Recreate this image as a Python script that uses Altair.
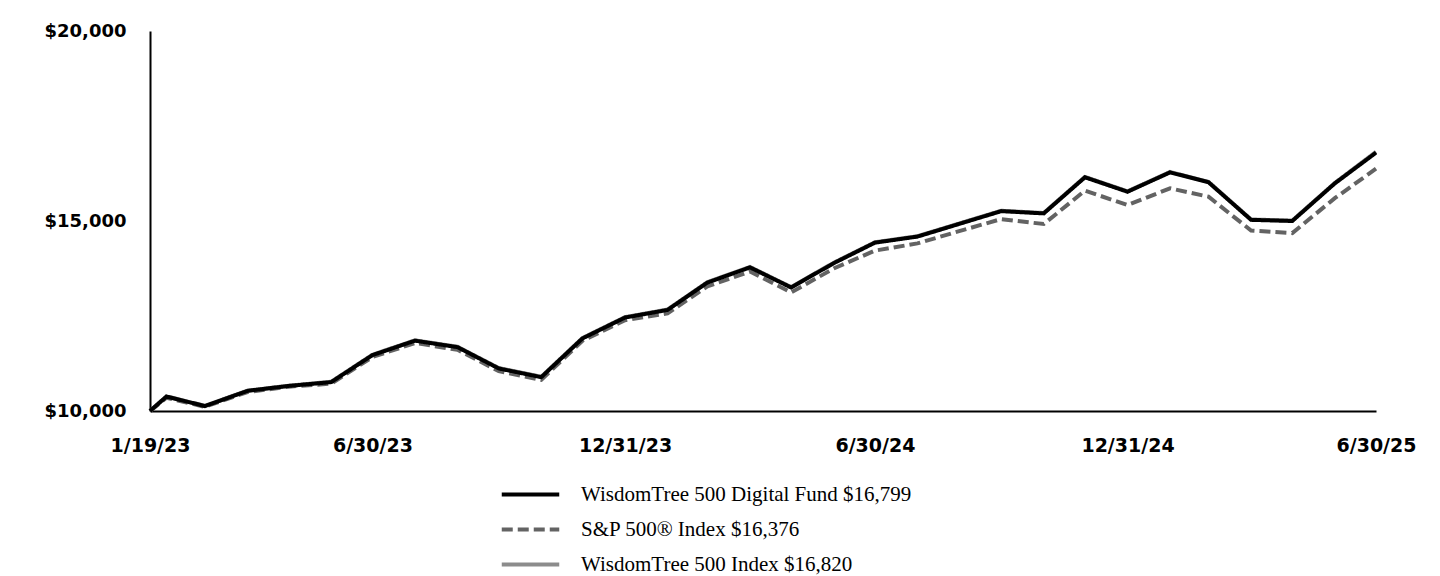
import altair as alt
import pandas as pd

dates = [
    "2023-01-19", "2023-01-31", "2023-02-28", "2023-03-31", "2023-04-30", "2023-05-31",
    "2023-06-30", "2023-07-31", "2023-08-31", "2023-09-30", "2023-10-31", "2023-11-30",
    "2023-12-31", "2024-01-31", "2024-02-29", "2024-03-31", "2024-04-30", "2024-05-31",
    "2024-06-30", "2024-07-31", "2024-08-31", "2024-09-30", "2024-10-31", "2024-11-30",
    "2024-12-31", "2025-01-31", "2025-02-28", "2025-03-31", "2025-04-30", "2025-05-31",
    "2025-06-30",
]

fund = [10000, 10380, 10130, 10530, 10660, 10760, 11470, 11850, 11680, 11120, 10890,
        11910, 12460, 12660, 13380, 13780, 13250, 13890, 14430, 14590, 14930, 15260,
        15200, 16150, 15770, 16280, 16020, 15030, 15000, 15990, 16799]
sp500 = [10000, 10350, 10110, 10500, 10640, 10720, 11420, 11790, 11610, 11050, 10820,
         11850, 12390, 12570, 13280, 13670, 13120, 13750, 14220, 14410, 14740, 15050,
         14920, 15800, 15420, 15860, 15640, 14750, 14680, 15600, 16376]
wt_index = [10000, 10385, 10135, 10535, 10665, 10770, 11480, 11860, 11690, 11130, 10900,
            11920, 12470, 12670, 13390, 13790, 13260, 13900, 14440, 14600, 14940, 15270,
            15210, 16160, 15780, 16290, 16030, 15040, 15010, 16000, 16820]

names = [
    "WisdomTree 500 Digital Fund $16,799",
    "S&P 500® Index $16,376",
    "WisdomTree 500 Index $16,820",
]
colors = ["#000000", "#636363", "#8c8c8c"]
dashes = [[1, 0], [11, 5], [1, 0]]

df = pd.concat([
    pd.DataFrame({"date": dates, "value": fund, "series": names[0]}),
    pd.DataFrame({"date": dates, "value": sp500, "series": names[1]}),
    pd.DataFrame({"date": dates, "value": wt_index, "series": names[2]}),
])

tick_dates = [
    alt.DateTime(year=2023, month=1, date=19, utc=True),
    alt.DateTime(year=2023, month=6, date=30, utc=True),
    alt.DateTime(year=2023, month=12, date=31, utc=True),
    alt.DateTime(year=2024, month=6, date=30, utc=True),
    alt.DateTime(year=2024, month=12, date=31, utc=True),
    alt.DateTime(year=2025, month=6, date=30, utc=True),
]

x = alt.X(
    "date:T",
    scale=alt.Scale(type="utc", domain=[tick_dates[0], tick_dates[-1]], nice=False),
    axis=alt.Axis(
        title=None, values=tick_dates, format="%-m/%-d/%y", ticks=False, grid=False,
        domainColor="black", domainWidth=2, labelPadding=25, labelBaseline="top",
        labelFlush=False, labelOverlap=False, labelFontSize=19,
    ),
)
y = alt.Y(
    "value:Q",
    scale=alt.Scale(domain=[10000, 20000], nice=False, zero=False),
    axis=alt.Axis(
        title=None, values=[10000, 15000, 20000], format="$,.0f", ticks=False, grid=False,
        domainColor="black", domainWidth=2, labelPadding=24, labelFontSize=18,
    ),
)

# long flat line as legend swatch, kept short in height so rows stay tight
legend_opts = dict(
    title=None, orient="none", legendX=367, legendY=450,
    symbolType="M-2.5,0H2.5", symbolSize=529, symbolStrokeWidth=4,
    labelFont="Liberation Serif", labelFontSize=21, labelColor="black",
    labelOffset=37, labelLimit=600, rowPadding=11, padding=0,
)
color = alt.Color(
    "series:N", scale=alt.Scale(domain=names, range=colors),
    legend=alt.Legend(**legend_opts),
)
dash = alt.StrokeDash(
    "series:N", scale=alt.Scale(domain=names, range=dashes),
    legend=alt.Legend(**legend_opts),
)

def series_layer(name):
    return alt.Chart(df).transform_filter(alt.datum.series == name).mark_line(
        strokeWidth=4, strokeJoin="miter"
    ).encode(x=x, y=y, color=color, strokeDash=dash)

# grey index underneath, then S&P dashed, then the fund on top
chart = alt.layer(
    series_layer(names[2]),
    series_layer(names[1]),
    series_layer(names[0]),
).properties(
    width=1226,
    height=380,
    autosize=alt.AutoSizeParams(type="none"),
    padding={"left": 142, "top": 23, "right": 56, "bottom": 165},
).configure_view(
    stroke=None
).configure_axis(
    labelFont="DejaVu Sans", labelFontWeight="bold", labelColor="black"
)

chart.save("out.html", embed_options={"renderer": "svg", "actions": False})
